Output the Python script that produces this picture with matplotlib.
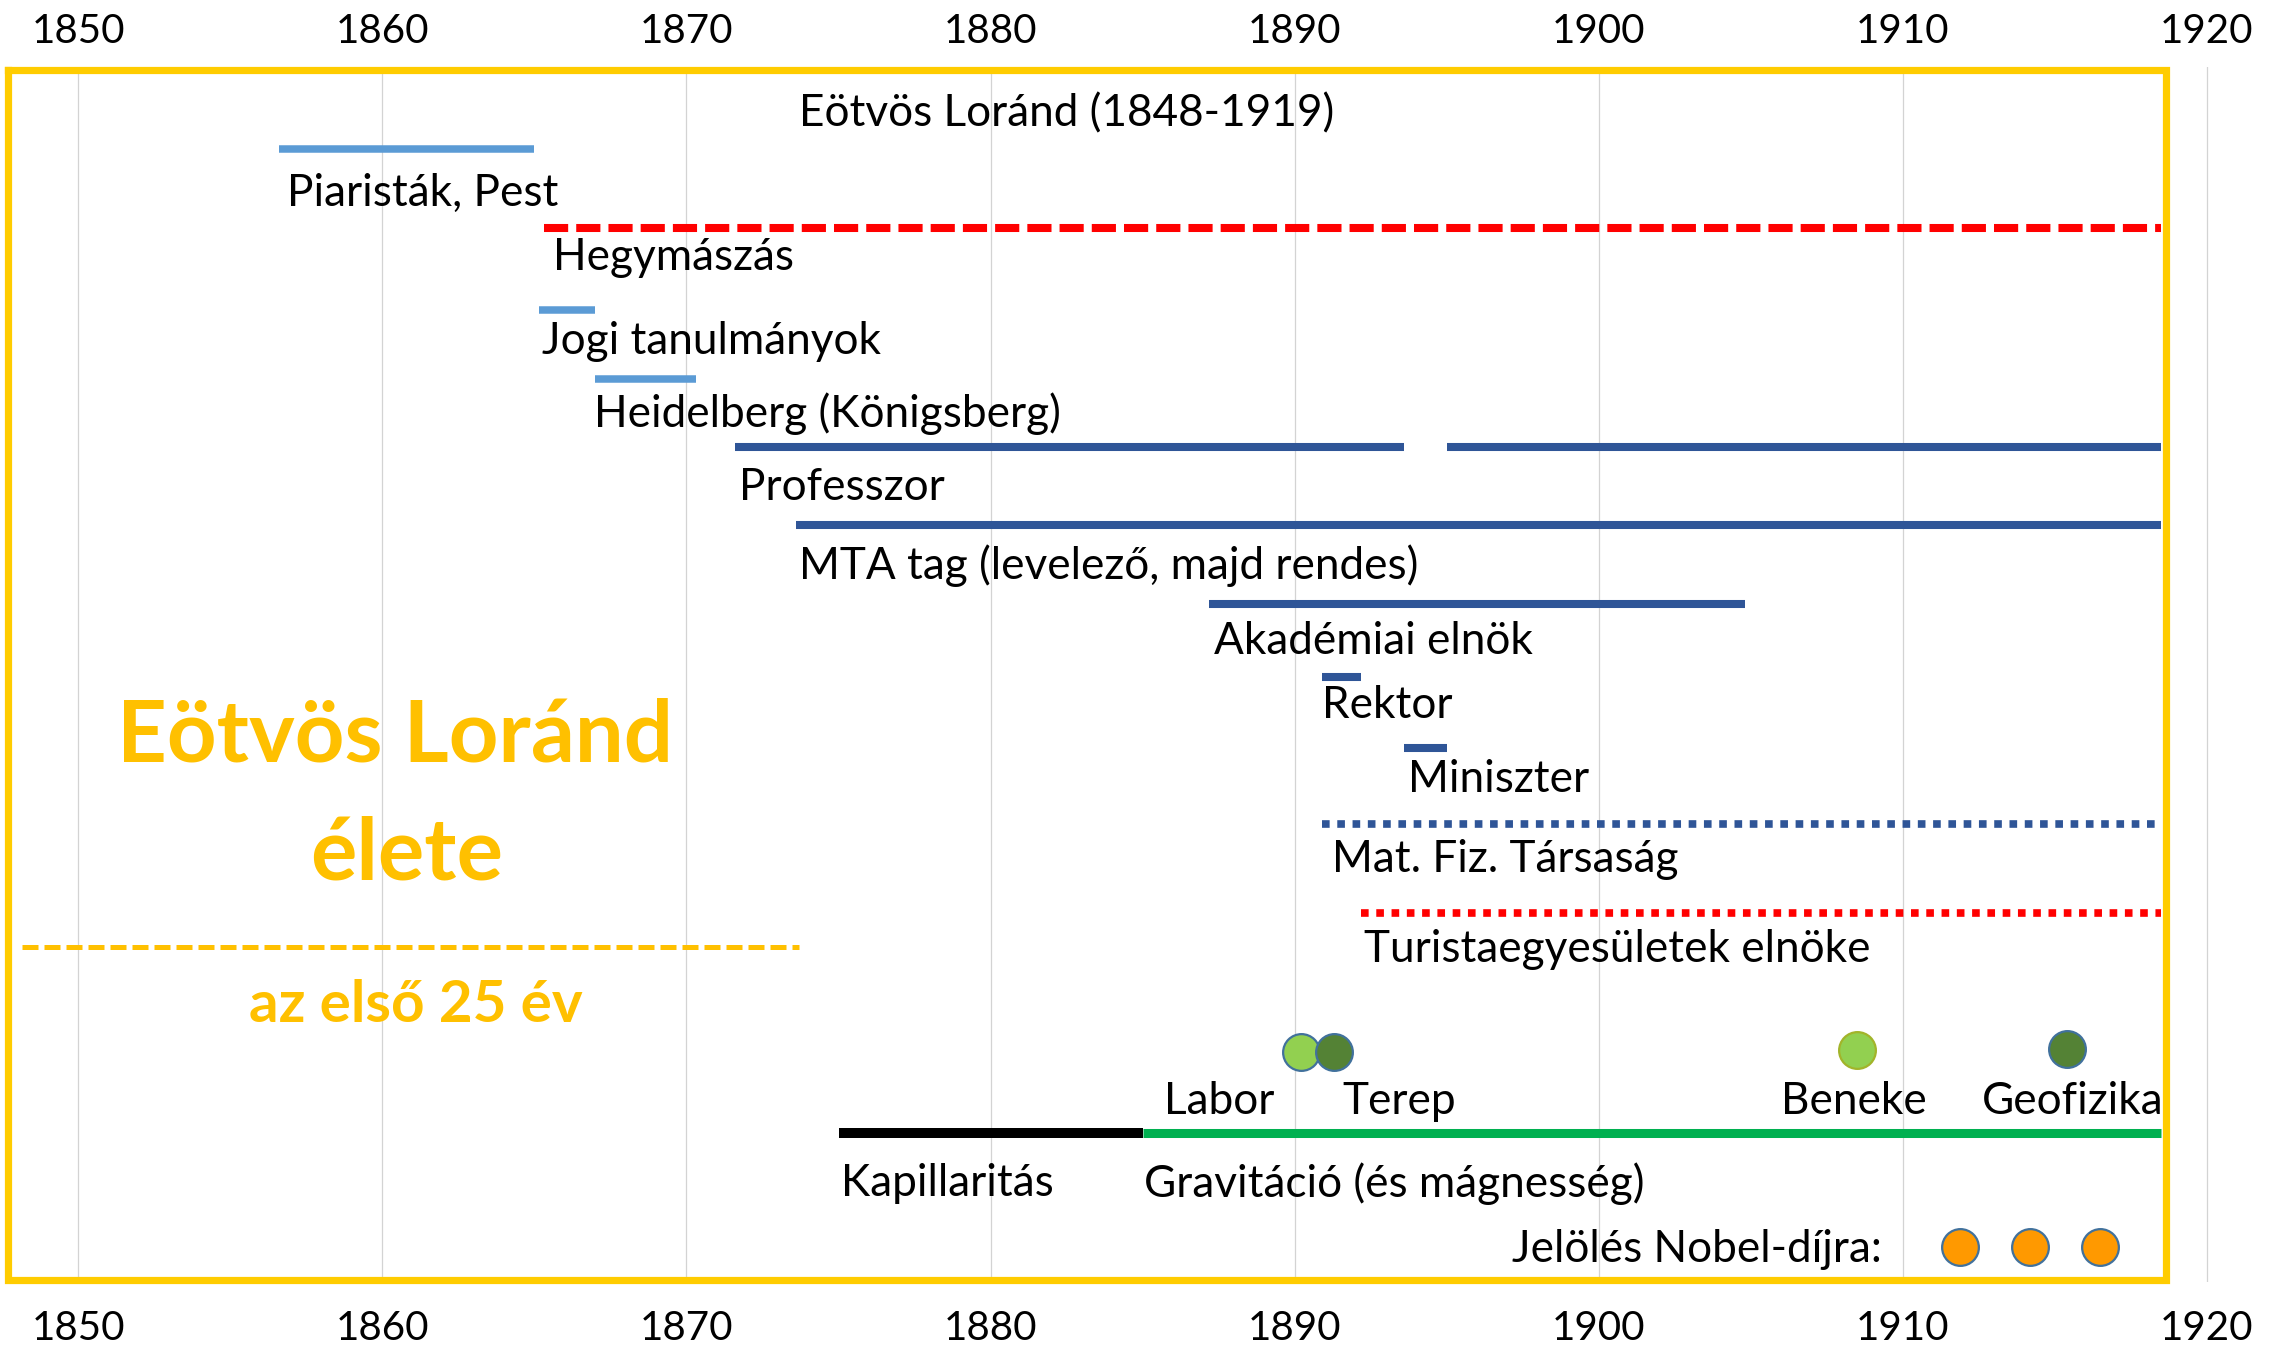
import matplotlib
matplotlib.use("Agg")
import matplotlib.pyplot as plt

plt.rcParams['font.family'] = ['Lato', 'DejaVu Sans']

# --- data -------------------------------------------------------------
years = list(range(1850, 1921, 10))

# timeline rows: label, colour key, line style key, segments (start, end)
row_names = ['Piaristák, Pest', 'Hegymászás', 'Jogi tanulmányok',
             'Heidelberg (Königsberg)', 'Professzor',
             'MTA tag (levelező, majd rendes)', 'Akadémiai elnök',
             'Rektor', 'Miniszter', 'Mat. Fiz. Társaság',
             'Turistaegyesületek elnöke', 'Kapillaritás',
             'Gravitáció (és mágnesség)']
row_segments = [[(1856.6, 1865.0)],
                [(1865.3, 1918.5)],
                [(1865.15, 1867.0)],
                [(1867.0, 1870.3)],
                [(1871.6, 1893.6), (1895.0, 1918.5)],
                [(1873.6, 1918.5)],
                [(1887.2, 1904.8)],
                [(1890.9, 1892.2)],
                [(1893.6, 1895.0)],
                [(1890.9, 1918.5)],
                [(1892.2, 1918.5)],
                [(1875.0, 1885.0)],
                [(1885.0, 1918.5)]]
row_kind = ['study', 'hobby', 'study', 'study', 'career', 'career',
            'career', 'career', 'career', 'society', 'hobby_dot',
            'early', 'gravity']

# research milestones (circles)
point_names = ['Labor', 'Terep', 'Beneke', 'Geofizika']
point_years = [1890.2, 1891.3, 1908.5, 1915.4]
point_kind = ['lab', 'field', 'lab2', 'field']

# Nobel prize nominations
nobel_years = [1911.9, 1914.2, 1916.5]

# --- layout (vertical rows are in pixel-like units from the top) ------
row_y = [149, 228, 310, 379, 447, 525, 604, 677, 748, 824, 913, 1133, 1133]
label_y = [189, 253, 337, 410, 484, 562, 637, 702, 776, 855, 945, 1180, 1180]
label_dx = [6, 7, 2, -1, 3, 2, 3, 0, 3, 7, 2, 2, 1]   # points
point_y = [1052, 1052, 1050, 1049]
point_label_y = 1097
point_label_dx = [-19, 6, -2, 4]
point_label_ha = ['right', 'left', 'center', 'center']
nobel_y = 1247

styles = {
    'study':     dict(color='#5B9BD5', lw=5.4, ls='-'),
    'career':    dict(color='#2F5597', lw=5.8, ls='-'),
    'hobby':     dict(color='#FF0000', lw=5.8, ls=(0, (3, 1))),
    'society':   dict(color='#2F5597', lw=5.5, ls=(0, (1, 1))),
    'hobby_dot': dict(color='#FF0000', lw=5.5, ls=(0, (1, 1))),
    'early':     dict(color='#000000', lw=7.2, ls='-'),
    'gravity':   dict(color='#00B050', lw=6.5, ls='-'),
}
point_style = {
    'lab':   dict(fc='#92D050', ec='#41719C'),
    'field': dict(fc='#548235', ec='#41719C'),
    'lab2':  dict(fc='#92D050', ec='#A2B42A'),
}
yellow = '#FFC000'
frame_yellow = '#FFCC00'
fs = 31.8

W, H = 2279, 1348
fig = plt.figure(figsize=(W / 100, H / 100), dpi=100)
ax_top, ax_bot = 67, 1282
ax = fig.add_axes([0, (H - ax_bot) / H, 1, (ax_bot - ax_top) / H])
ax.set_xlim(1847.42, 1922.38)
ax.set_ylim(ax_bot, ax_top)

for s in ax.spines.values():
    s.set_visible(False)
ax.set_yticks([])
ax.set_xticks(years)
ax.tick_params(axis='x', length=0, pad=20, labelsize=29)
ax.grid(axis='x', color='#D3D3D3', lw=0.9, zorder=0)
ax.set_axisbelow(True)

sec = ax.secondary_xaxis('top')
sec.set_xticks(years)
sec.tick_params(length=0, pad=12, labelsize=29)
for s in sec.spines.values():
    s.set_visible(False)

# timeline bars
for name, segs, kind, y, ly, dx in zip(row_names, row_segments, row_kind,
                                       row_y, label_y, label_dx):
    st = styles[kind]
    for a, b in segs:
        ax.plot([a, b], [y, y], color=st['color'], lw=st['lw'],
                linestyle=st['ls'], solid_capstyle='butt',
                dash_capstyle='butt', zorder=3)
    ax.annotate(name, (segs[0][0], ly), xytext=(dx, 0),
                textcoords='offset points', ha='left',
                va='center_baseline', fontsize=fs)

# research points
for name, x, kind, y, dx, ha in zip(point_names, point_years, point_kind,
                                    point_y, point_label_dx, point_label_ha):
    ps = point_style[kind]
    ax.scatter([x], [y], s=700, facecolor=ps['fc'], edgecolor=ps['ec'],
               linewidth=1.6, zorder=4)
    ax.annotate(name, (x, point_label_y), xytext=(dx, 0),
                textcoords='offset points', ha=ha,
                va='center_baseline', fontsize=fs)

# Nobel nominations
ax.scatter(nobel_years, [nobel_y] * len(nobel_years), s=700,
           facecolor='#FF9900', edgecolor='#41719C', linewidth=1.6, zorder=4)
ax.text(1897.15, nobel_y - 2, 'Jelölés Nobel-díjra:', ha='left',
        va='center_baseline', fontsize=fs)

# heading line
ax.text(1873.7, 110, 'Eötvös Loránd (1848-1919)', ha='left',
        va='center_baseline', fontsize=fs)

# big title block
ax.text(1860.4, 730, 'Eötvös Loránd', ha='center', va='center_baseline',
        fontsize=62.5, fontweight='bold', color=yellow)
ax.text(1860.8, 847, 'élete', ha='center', va='center_baseline',
        fontsize=62.5, fontweight='bold', color=yellow)
ax.plot([1848.14, 1873.7], [947, 947], color=yellow, lw=3.6,
        linestyle=(0, (3.2, 1.2)), dash_capstyle='butt', zorder=3)
ax.text(1861.1, 1001, 'az első 25 év', ha='center', va='center_baseline',
        fontsize=42, fontweight='bold', color=yellow)

# yellow frame
fx0, fx1, fy0, fy1 = 1847.68, 1918.65, 70, 1280
ax.plot([fx0, fx1, fx1, fx0, fx0], [fy0, fy0, fy1, fy1, fy0],
        color=frame_yellow, lw=5.2, solid_joinstyle='miter',
        clip_on=False, zorder=5)

fig.savefig('out.png', dpi=100, facecolor='white')
